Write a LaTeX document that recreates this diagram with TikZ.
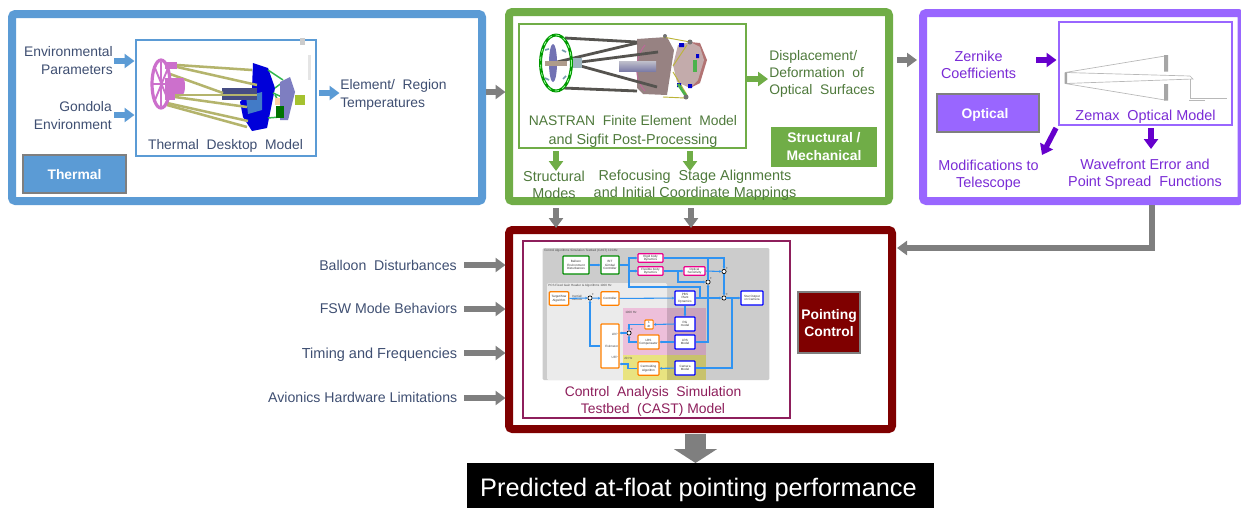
\documentclass[tikz,border=0pt]{standalone}
\usepackage{fontspec}
\setmainfont{Liberation Sans}
\usetikzlibrary{arrows.meta,calc}
\definecolor{cblue}{HTML}{5B9BD5}
\definecolor{cgreen}{HTML}{70AD47}
\definecolor{cpurple}{HTML}{9966FF}
\definecolor{cred}{HTML}{7F0000}
\definecolor{cgray}{HTML}{7F7F7F}
\definecolor{tslate}{HTML}{3F4F72}
\definecolor{tgreen}{HTML}{4F7A3C}
\definecolor{tpurple}{HTML}{7A2BD6}
\definecolor{apurple}{HTML}{6600CC}
\definecolor{tcast}{HTML}{8E1F5C}
\definecolor{wire}{HTML}{2F93F2}
\definecolor{rodolive}{HTML}{B4B46C}
\definecolor{magring}{HTML}{CC70CC}
\definecolor{rodgray}{HTML}{55534F}
\definecolor{brightgreen}{HTML}{2FB84A}
\tikzset{
  frame/.style={draw=#1,line width=6pt,fill=white,rounded corners=2.5pt},
  panel/.style={draw=#1,line width=1.3pt,fill=white},
  lab/.style={inner sep=0pt,font=\fontsize{10.4}{12.9}\selectfont,text=#1},
  labw/.style={inner sep=0pt,font=\fontsize{10.8}{12.9}\selectfont,text=#1},
  labm/.style={inner sep=0pt,font=\fontsize{10.6}{12.9}\selectfont,text=#1},
  tag/.style={inner sep=0pt,font=\fontsize{10.4}{12.9}\selectfont\bfseries,text=white,align=center},
  arr/.style={draw=#1,line width=4pt,-{Triangle[length=7.5pt,width=10.5pt]}},
  wirearr/.style={draw=wire,line width=.8pt,-{Stealth[length=1.8pt,width=2pt]}},
  wireln/.style={draw=wire,line width=.8pt},
  mini/.style={draw=#1,line width=.9pt,fill=white,rounded corners=.6pt,inner sep=0pt,align=center,font=\fontsize{2.3}{2.6}\selectfont,text=black!80},
  sumnode/.style={circle,draw=black,line width=.5pt,fill=white,minimum size=3.2pt,inner sep=0pt,
     label={[inner sep=0pt,font=\fontsize{2.3}{2.3}\selectfont]north east:+}},
  tiny/.style={inner sep=0pt,font=\fontsize{2.3}{2.6}\selectfont,text=black!70},
  rod/.style={draw=#1,line width=1.9pt}
}
\begin{document}
\begin{tikzpicture}[x=0.75pt,y=-0.75pt]
\useasboundingbox (0,0) rectangle (1241,508);
% ---------- frames
\draw[frame=cblue] (12,14) rectangle (482,201);
\draw[frame=cgreen] (509,12) rectangle (889,201);
\draw[frame=cpurple] (923,13) rectangle (1241.5,201);
\draw[frame=cred] (509,230) rectangle (892,429);
% ---------- thermal panel
\node[panel=cblue,minimum width=135pt,minimum height=87pt,inner sep=0pt] (tdm) at (226,98) {};
\begin{scope}
 \fill[blue!85!black] (253,63) -- (268,68) -- (275,88) -- (267,128) -- (252,131) -- (243,117) -- (240,102) -- (252,88) -- cycle;
 \fill[cyan!45!blue!80] (246,96) -- (262,92) -- (262,110) -- (248,114) -- cycle;
 \fill[cyan!20!blue!65!black] (222,88) rectangle (257,100);
 \foreach \a/\b/\c/\d in {177/65/252/70,177/67/257/85,170/74/223/93,175/95/257/95,175/97/247/107,167/103/248/121,167/105/247/127}{
   \draw[rod=rodolive] (\a,\b) -- (\c,\d);}
 \draw[draw=magring,line width=2.4pt,fill=white] (161,84) ellipse [x radius=9,y radius=24];
 \draw[draw=magring,line width=1.4pt] (161,62) -- (161,106) (153,84) -- (169,84) (155,68) -- (168,100) (168,68) -- (155,100);
 \fill[magring] (165,78) rectangle (183,94);
 \fill[magring] (183,86) ellipse [x radius=2,y radius=8];
 \fill[magring] (165,62) rectangle (177,69);
 \fill[magring] (165,93) rectangle (175,100);
 \draw[brightgreen,line width=1.1pt] (268,70) -- (283,80) (275,88) -- (283,82) (273,93) -- (282,97) (268,118) -- (280,117) (275,95) -- (288,118);
 \fill[orange!35] (275,98) rectangle (281,105);
 \fill[blue!35!gray!75] (280,82) -- (290,77) -- (295,92) -- (288,120) -- (280,120) -- cycle;
 \fill[yellow!70!green!85!black] (295,95) rectangle (305,105);
 \fill[green!45!black] (276,106) rectangle (284,118);
 \fill[black!20] (300,38) rectangle (305,45);
 \fill[black!10] (308,55) rectangle (311,80);
\end{scope}
\node[lab=tslate,align=right,anchor=east] (envp) at (113,60.5) {Environmental\\Parameters};
\node[lab=tslate,align=right,anchor=east] (gond) at (112,115.5) {Gondola\\Environment};
\node[lab=tslate,align=left,anchor=west] (elem) at (340,95) {Element/\ \ Region\\Temperatures};
\node[lab=tslate,anchor=center] (tdmt) at (225.5,146) {Thermal\ \ Desktop\ \ Model};
\node[draw=cgray,line width=1.5pt,fill=cblue,minimum width=77pt,minimum height=28.5pt,inner sep=0pt] (thm) at (74.5,174) {};
\node[tag] (thmt) at (74.5,174.5) {Thermal};
\coordinate (a1s) at (114,61); \coordinate (a1e) at (134.5,61);
\coordinate (a2s) at (114,115); \coordinate (a2e) at (134.5,115);
\coordinate (a3s) at (319,93); \coordinate (a3e) at (339.5,93);
\draw[arr=cblue] (a1s) -- (a1e);
\draw[arr=cblue] (a2s) -- (a2e);
\draw[arr=cblue] (a3s) -- (a3e);
% ---------- structural panel
\node[panel=cgreen,minimum width=170.5pt,minimum height=93.5pt,inner sep=0pt] (nas) at (632.5,86) {};
\begin{scope}
 \fill[black!35!red!15!gray!85] (637,39) -- (667,37) -- (674,50) -- (667,95) -- (643,94) -- (637,88) -- cycle;
 \draw[magenta!45!gray,line width=.8pt] (645,45) .. controls (634,58) and (634,80) .. (645,91);
 \foreach \a/\b/\c/\d in {565/38/637/42,563/88/637/91,557/62/637/43,573/63/658/52,577/65/657/87}{
   \draw[draw=rodgray,line width=2.1pt] (\a,\b) -- (\c,\d);}
 \shade[top color=blue!10!gray!45,bottom color=blue!20!gray!85] (619,61) rectangle (656,71);
 \fill[red!45!black!55] (690,42) -- (700,43) -- (707,60) -- (700,83) -- (690,88) -- cycle;
 \fill[pink!45!gray!85] (678,45) -- (690,42) -- (700,47) -- (704,60) -- (698,80) -- (690,88) -- (677,82) -- (673,65) -- cycle;
 \fill[green!40!gray] (693,60) rectangle (697,72);
 \draw[yellow!70!black,line width=.7pt] (663,37) -- (690,42) (673,66) -- (687,45) (673,72) -- (687,95) (663,97) -- (685,98);
 \fill[blue!80!black] (679,43) rectangle (684,47) (696,54) rectangle (699,58) (677,83) rectangle (681,87) (688,84) rectangle (692,88);
 \draw[green!40!gray,line width=2pt] (678,84) -- (686,96);
 \fill[black!55] (665,36) circle (2) (690,42) circle (2.5) (686,97) circle (2.5);
 \fill[blue!30!gray!85] (553,63) ellipse [x radius=4,y radius=19];
 \fill[black!35!orange!30!gray!70] (545,61) rectangle (567,66);
 \fill[cyan!25!gray!75] (570,58) rectangle (582,68);
 \draw[green!60!black,line width=2.2pt] (556,63) ellipse [x radius=15.5,y radius=28];
 \draw[white!60!green,line width=.6pt,dash pattern=on 3pt off 3pt] (556,63) ellipse [x radius=15.5,y radius=28];
 \draw[cyan!50!black!70,line width=1.2pt] (545,50) -- (549,49) (562,50) -- (566,52) (545,78) -- (549,80) (563,79) -- (566,76);
\end{scope}
\node[lab=tgreen,align=center] (nast) at (633,131.5) {NASTRAN\ \ Finite\ Element\ \ Model\\[1.3pt]\fontsize{10.8}{12.9}\selectfont and Sigfit Post-Processing};
\node[lab=tgreen,align=left,anchor=west] (disp) at (769,74) {Displacement/\\Deformation\ \ of\\Optical\ \ Surfaces};
\node[fill=cgreen,minimum width=79.5pt,minimum height=30pt,inner sep=0pt] (stru) at (824,147) {};
\node[tag] (strut) at (824,146.5) {Structural /\\Mechanical};
\node[labw=tgreen,align=center] (modes) at (554,185) {Structural\\Modes};
\node[labw=tgreen,align=center] (refo) at (695,185) {Refocusing\ \ Stage\ Alignments\\and Initial Coordinate Mappings};
\coordinate (g1s) at (747,79); \coordinate (g1e) at (768,79);
\coordinate (g2s) at (556,151); \coordinate (g2e) at (556,171);
\coordinate (g3s) at (690,151); \coordinate (g3e) at (690,171);
\draw[arr=cgreen] (g1s) -- (g1e);
\draw[arr=cgreen] (g2s) -- (g2e);
\draw[arr=cgreen] (g3s) -- (g3e);
% ---------- optical panel
\node[panel=cpurple,minimum width=129.5pt,minimum height=77pt,inner sep=0pt] (zem) at (1145.5,73.5) {};
\begin{scope}[draw=black!28,line width=.5pt]
 \draw (1065,72.5) -- (1165,56) (1065,83.5) -- (1165,100) (1065,72.5) -- (1190,76) -- (1193,79) -- (1065,83.5);
 \draw (1190,79) -- (1190,98) -- (1227,98) (1189,100) -- (1205,100);
 \fill[black!35] (1164,55) rectangle (1168,71.5) (1164,84) rectangle (1168,100.5) (1064.5,72.5) rectangle (1067,83.5);
\end{scope}
\node[labw=tpurple,align=center] (zern) at (978.5,65) {Zernike\\Coefficients};
\node[draw=cgray,line width=1.5pt,fill=cpurple,minimum width=77pt,minimum height=28.5pt,inner sep=0pt] (opt) at (988,113) {};
\node[tag] (optt) at (985,115) {Optical};
\node[labw=tpurple] (zemt) at (1145.5,116.5) {Zemax\ \ Optical\ Model};
\node[labw=tpurple,align=center] (modi) at (988.5,175) {Modifications to\\Telescope};
\node[labw=tpurple,align=center] (wave) at (1145,174.5) {Wavefront Error and\\Point Spread\ \ Functions};
\coordinate (p1s) at (1036,60); \coordinate (p1e) at (1056.5,60);
\coordinate (p2s) at (1056,128); \coordinate (p2e) at (1042,155);
\coordinate (p3s) at (1151,128); \coordinate (p3e) at (1151,149);
\draw[arr=apurple] (p1s) -- (p1e);
\draw[arr=apurple] (p2s) -- (p2e);
\draw[arr=apurple] (p3s) -- (p3e);
% ---------- connectors between blocks
\coordinate (c1s) at (486,92); \coordinate (c1e) at (505.5,92);
\coordinate (c2s) at (897,60); \coordinate (c2e) at (917,60);
\coordinate (c3s) at (556,208); \coordinate (c3e) at (556,228);
\coordinate (c4s) at (691,208); \coordinate (c4e) at (691,228);
\coordinate (c5s) at (1152,205); \coordinate (c5e) at (897,248);
\draw[arr=cgray] (c1s) -- (c1e);
\draw[arr=cgray] (c2s) -- (c2e);
\draw[arr=cgray] (c3s) -- (c3e);
\draw[arr=cgray] (c4s) -- (c4e);
\draw[arr=cgray] (c5s) |- (c5e);
% ---------- pointing panel
\node[draw=tcast,line width=1.4pt,fill=white,minimum width=200pt,minimum height=133pt,inner sep=0pt] (cast) at (656.5,329.5) {};
\node[fill=black!20,minimum width=170pt,minimum height=99pt,inner sep=0pt,rounded corners=1pt] (bg1) at (656,314) {};
\node[fill=black!8,minimum width=90pt,minimum height=72.7pt,inner sep=0pt,rounded corners=1pt] (bg2) at (607,331.5) {};
\node[fill=magenta!50!violet!27,minimum width=62.2pt,minimum height=35.2pt,inner sep=0pt] (bg3) at (664.5,331.5) {};
\node[fill=yellow!50!white!90!black,minimum width=62.2pt,minimum height=18.7pt,inner sep=0pt] (bg4) at (664.5,367.5) {};
\fill[black,opacity=.14] (667,308) rectangle (706,380);
\node[tiny,anchor=west] (t1) at (544,250.5) {Control Algorithms Simulation Testbed (CAST) 10 kHz};
\node[tiny,anchor=west] (t2) at (548,285.5) {PCS Fixed Gain Header \& Algorithms 1000 Hz};
\node[tiny,anchor=west] (t3) at (625,312) {1000 Hz};
\node[tiny,anchor=west] (t4) at (624,358.5) {20 Hz};
\node[mini=green!55!black,minimum width=19.5pt,minimum height=13.5pt] (ball) at (576,265) {Balloon\\Environment\\Disturbances};
\node[mini=green!55!black,minimum width=13.5pt,minimum height=13.5pt] (bit) at (610,265) {BIT\\Gimbal\\Controller};
\node[mini=magenta,minimum width=18.7pt,minimum height=6.5pt] (rig) at (650.5,258) {Rigid body\\Dynamics};
\node[mini=magenta,minimum width=18.7pt,minimum height=6.5pt] (fle) at (650.5,271) {Flexible body\\Dynamics};
\node[mini=magenta,minimum width=15.7pt,minimum height=6.5pt] (ops) at (694.5,271) {Optical\\Sensitivity};
\node[sumnode] (s1) at (724,271.5) {};
\node[sumnode] (s2) at (708,282) {};
\node[sumnode] (s3) at (724,298) {};
\node[sumnode] (s4) at (590,298) {};
\node[sumnode] (s5) at (629,333) {};
\node[mini=blue,minimum width=16.5pt,minimum height=10.5pt] (star) at (752,298) {Star Output\\on Camera};
\node[mini=orange,minimum width=14.5pt,minimum height=10pt] (targ) at (559,298.5) {Target/Star\\Algorithm};
\node[tiny,align=center] (iner) at (577,298) {Inertial/\\Attitude};
\node[mini=orange,minimum width=13.5pt,minimum height=10pt] (ctrl) at (610,298.5) {Controller};
\node[mini=blue,minimum width=15pt,minimum height=10.5pt] (fss) at (685,298) {PBS\\Plant\\Dynamics};
\node[mini=orange,minimum width=6.2pt,minimum height=6.8pt] (intg) at (649,324.5) {1\\dt};
\node[mini=blue,minimum width=15pt,minimum height=10.5pt] (rg) at (685,324) {RG\\model};
\node[mini=orange,minimum width=13.5pt,minimum height=33pt] (esti) at (610,346) {};
\node[tiny,anchor=east] (est1) at (618,334) {LRP};
\node[tiny,anchor=east] (est2) at (618.5,346) {Estimator};
\node[tiny,anchor=east] (est3) at (618,357) {UFP};
\node[mini=orange,minimum width=15.7pt,minimum height=10.5pt] (lrso) at (648.5,342) {LRS\\Compensator};
\node[mini=blue,minimum width=15pt,minimum height=10.5pt] (lrsb) at (685,342) {LRS\\Model};
\node[mini=orange,minimum width=15.7pt,minimum height=10pt] (cent) at (648.5,368.5) {Centroiding\\Algorithm};
\node[mini=blue,minimum width=15pt,minimum height=10.5pt] (came) at (685,368) {Camera\\Model};
% wires
\draw[wirearr] (ball) -- (bit);
\coordinate (w1) at (629,265);
\draw[wirearr] (bit.east) -- (w1) |- (rig.west);
\draw[wirearr] (w1) |- (fle.west);
\draw[wirearr] (fle) -- (ops);
\draw[wirearr] (rig.east) -| (s1.north);
\draw[wirearr] (ops.east) -- (s1.west);
\coordinate (w2) at (678,271);
\draw[wirearr] (w2) |- (s2.west);
\draw[wireln] (fle.east) -- (w2);
\draw[wirearr] (s1) -- (s3);
\draw[wirearr] (s3) -- (star);
\draw[wirearr] (fss.east) -- (s3.west);
\draw[wirearr] (ctrl) -- (fss);
\draw[wirearr] (targ) -- (s4);
\draw[wirearr] (s4) -- (ctrl);
\coordinate (w3) at (700,298); \coordinate (w4) at (700,287); \coordinate (w5) at (629,287);
\draw[wirearr] (w3) -- (w4) -- (w5) |- (fle.west);
\draw[wirearr] (fss) -- (rg);
\draw[wirearr] (rg.west) -- (intg.east);
\coordinate (w6) at (629,324.5);
\draw[wirearr] (intg.west) -- (w6) -- (s5.north);
\coordinate (w7) at (629,342);
\draw[wirearr] (lrso.west) -- (w7) -- (s5.south);
\draw[wirearr] (s5.west) -- (s5.west -| esti.east);
\draw[wirearr] (lrsb) -- (lrso);
\coordinate (w8) at (708,342); \coordinate (w9) at (708,258);
\draw[wirearr] (lrsb.east) -- (w8) -- (s2.south);
\draw[wireln] (s2.north) -- (w9);
\draw[wirearr] (came) -- (cent);
\coordinate (w10) at (628,368.5); \coordinate (w11) at (628,364);
\draw[wirearr] (cent.west) -- (w10) -- (w11) -- (w11 -| esti.east);
\coordinate (w12) at (590,346);
\draw[wirearr] (esti.west) -- (w12) -- (s4.south);
\coordinate (w13) at (732,368); \coordinate (w14) at (732,298);
\draw[wireln] (came.east) -- (w13) -- (w14);
%
\node[lab=tcast,align=center] (castt) at (653,401.5) {Control\ \ Analysis\ \ Simulation\\Testbed\ \ (CAST) Model};
\node[draw=cgray,line width=1.5pt,fill=cred,minimum width=46pt,minimum height=46pt,inner sep=0pt] (pc) at (829,322.5) {};
\node[tag] (pct) at (829,323) {Pointing\\Control};
% left inputs
\node[labm=tslate,anchor=east] (l1) at (457,265.5) {Balloon\ \ Disturbances};
\node[labm=tslate,anchor=east] (l2) at (457.5,308.5) {FSW Mode Behaviors};
\node[inner sep=0pt,font=\fontsize{10.9}{12.9}\selectfont,text=tslate,anchor=east] (l3) at (457.5,354.5) {Timing\ and Frequencies};
\node[labm=tslate,anchor=east] (l4) at (457.5,397.5) {Avionics Hardware\ Limitations};
\coordinate (i1) at (505.5,265); \coordinate (i2) at (505.5,309); \coordinate (i3) at (505.5,353); \coordinate (i4) at (505.5,398);
\coordinate (i1s) at (464,265); \coordinate (i2s) at (464,309); \coordinate (i3s) at (464,353); \coordinate (i4s) at (464,398);
\draw[arr=cgray] (i1s) -- (i1);
\draw[arr=cgray] (i2s) -- (i2);
\draw[arr=cgray] (i3s) -- (i3);
\draw[arr=cgray] (i4s) -- (i4);
% output
\node[fill=black,minimum width=350.25pt,minimum height=33.75pt,inner sep=0pt] (pred) at (700.5,485.5) {};
\node[inner sep=0pt,text=white,font=\fontsize{19}{20}\selectfont] (predt) at (698.5,489.5) {Predicted at-float pointing performance};
\coordinate (o1) at (695.5,434); \coordinate (o2) at (695.5,463);
\draw[cgray,line width=15.5pt,-{Triangle[length=10.5pt,width=32pt]}] (o1) -- (o2);
\end{tikzpicture}
\end{document}
